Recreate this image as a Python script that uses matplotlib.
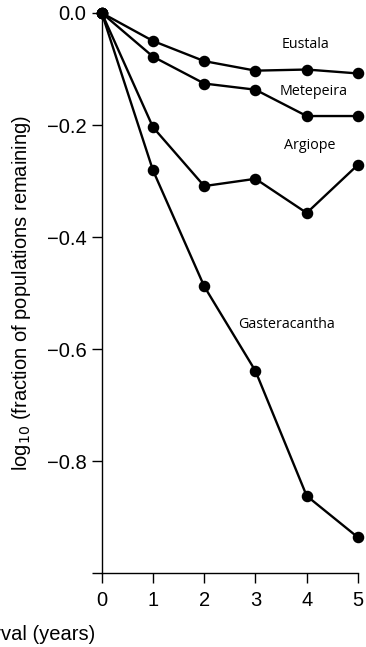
import matplotlib
matplotlib.use('Agg')
import matplotlib.pyplot as plt

## spider population persistence, log10 fraction remaining vs interval

years = [0, 1, 2, 3, 4, 5]
eustala = [0.0, -0.050, -0.086, -0.103, -0.101, -0.108]
metepeira = [0.0, -0.078, -0.126, -0.137, -0.184, -0.184]
argiope = [0.0, -0.204, -0.309, -0.296, -0.357, -0.271]
gasteracantha = [0.0, -0.281, -0.488, -0.639, -0.862, -0.936]

species = ['Eustala', 'Metepeira', 'Argiope', 'Gasteracantha']
label_pos = [(3.98, -0.057), (4.14, -0.140), (4.06, -0.236), (3.61, -0.556)]

yticks = [0.0, -0.2, -0.4, -0.6, -0.8, -1.0]
yticklabels = ['0.0', '\u22120.2', '\u22120.4', '\u22120.6', '\u22120.8', '']

plt.rcParams['font.family'] = ['Liberation Sans', 'DejaVu Sans']

fig = plt.figure(figsize=(3.66, 6.47), dpi=100)
ax = fig.add_axes([0.278, 0.114, 0.700, 0.866])

for ys in (eustala, metepeira, argiope, gasteracantha):
    ax.plot(years, ys, color='black', lw=1.7, marker='o', ms=7.3, clip_on=False, zorder=3)

for name, (x, y) in zip(species, label_pos):
    ax.text(x, y, name, ha='center', va='center', fontsize=10.3,
            family=['Open Sans', 'DejaVu Sans'])

ax.set_xlim(0, 5)
ax.set_ylim(-1.0, 0.0)
ax.set_xticks(years)
ax.set_yticks(yticks)
ax.set_yticklabels(yticklabels)
ax.tick_params(axis='y', direction='out', length=7, width=1, labelsize=14.5, pad=4)
ax.tick_params(axis='x', direction='out', length=7.5, width=1, labelsize=14.5, pad=5)
for s in ('top', 'right'):
    ax.spines[s].set_visible(False)
for s in ('left', 'bottom'):
    ax.spines[s].set_linewidth(1)

ax.set_ylabel('log$_{10}$ (fraction of populations remaining)', fontsize=14.5)
ax.yaxis.set_label_coords(-0.27, 0.5)
fig.text(95 / 366, 1 - 634 / 647, 'Time interval (years)', ha='right', va='center', fontsize=14.5)

fig.savefig('out.png', dpi=100)
